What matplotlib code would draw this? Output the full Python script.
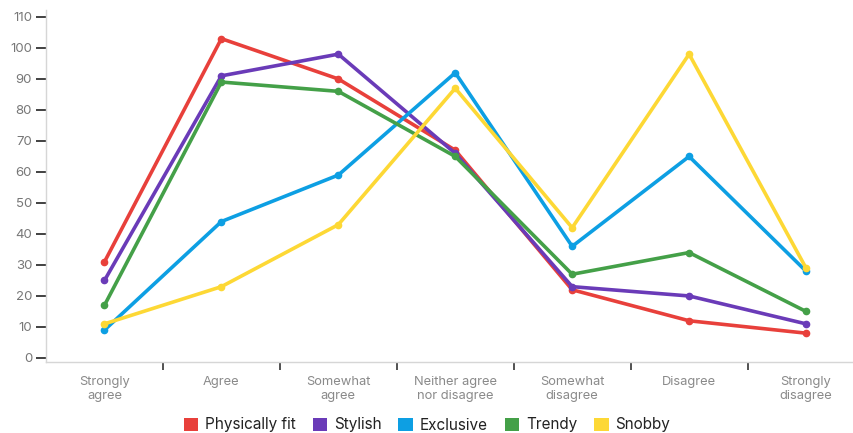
import matplotlib
matplotlib.use("Agg")
import matplotlib.pyplot as plt
from matplotlib.patches import Patch

categories = ["Strongly\nagree", "Agree", "Somewhat\nagree", "Neither agree\nnor disagree",
              "Somewhat\ndisagree", "Disagree", "Strongly\ndisagree"]
series_names = ["Physically fit", "Stylish", "Exclusive", "Trendy", "Snobby"]
physically_fit = [31, 103, 90, 67, 22, 12, 8]
stylish = [25, 91, 98, 66, 23, 20, 11]
exclusive = [9, 44, 59, 92, 36, 65, 28]
trendy = [17, 89, 86, 65, 27, 34, 15]
snobby = [11, 23, 43, 87, 42, 98, 29]
colors = ["#e8403b", "#6a3bb8", "#0d9fe3", "#44a048", "#fdd835"]
y_ticks = list(range(0, 111, 10))

plt.rcParams["font.family"] = ["Inter", "DejaVu Sans"]

W, H = 854, 433
fig = plt.figure(figsize=(W / 100, H / 100), dpi=100)
ax = fig.add_axes([46 / W, (H - 362) / H, (864.5 - 46) / W, (362 - 9.5) / H])

xs = list(range(len(categories)))
for vals, name, c in zip([physically_fit, stylish, exclusive, trendy, snobby], series_names, colors):
    ax.plot(xs, vals, color=c, lw=2.6, marker="o", ms=4.5, solid_joinstyle="miter",
            solid_capstyle="round", clip_on=False, label=name)

ax.set_xlim(-0.5, 6.5)
ax.set_ylim(-1.3, 112.4)
ax.set_yticks(y_ticks)
ax.set_yticklabels([str(v) for v in y_ticks])

# category labels at centres, tick marks between categories
ax.set_xticks(xs)
ax.set_xticklabels(categories, color="#8a8a8a", fontsize=9.3, linespacing=1.2)
ax.tick_params(axis="x", which="major", length=0, pad=10)
ax.set_xticks([i + 0.5 for i in range(len(categories) - 1)], minor=True)
ax.tick_params(axis="x", which="minor", length=6, width=1.2, color="#333333", direction="out")
ax.tick_params(axis="y", length=7, width=1.3, color="#333333", labelcolor="#777777",
               labelsize=9.5, pad=3)

for s in ["top", "right"]:
    ax.spines[s].set_visible(False)
ax.spines["left"].set_color("#d6d6d6")
ax.spines["bottom"].set_color("#d6d6d6")
ax.spines["left"].set_linewidth(1)
ax.spines["bottom"].set_linewidth(1)

handles = [Patch(facecolor=c, edgecolor="none", label=n) for c, n in zip(colors, series_names)]
fig.legend(handles=handles, loc="center", bbox_to_anchor=(427 / W, (H - 425) / H), ncol=5,
           frameon=False, fontsize=11, handlelength=0.95, handleheight=0.95,
           handletextpad=0.45, columnspacing=1.1, labelcolor="#222222")

fig.savefig("out.png", dpi=100)
